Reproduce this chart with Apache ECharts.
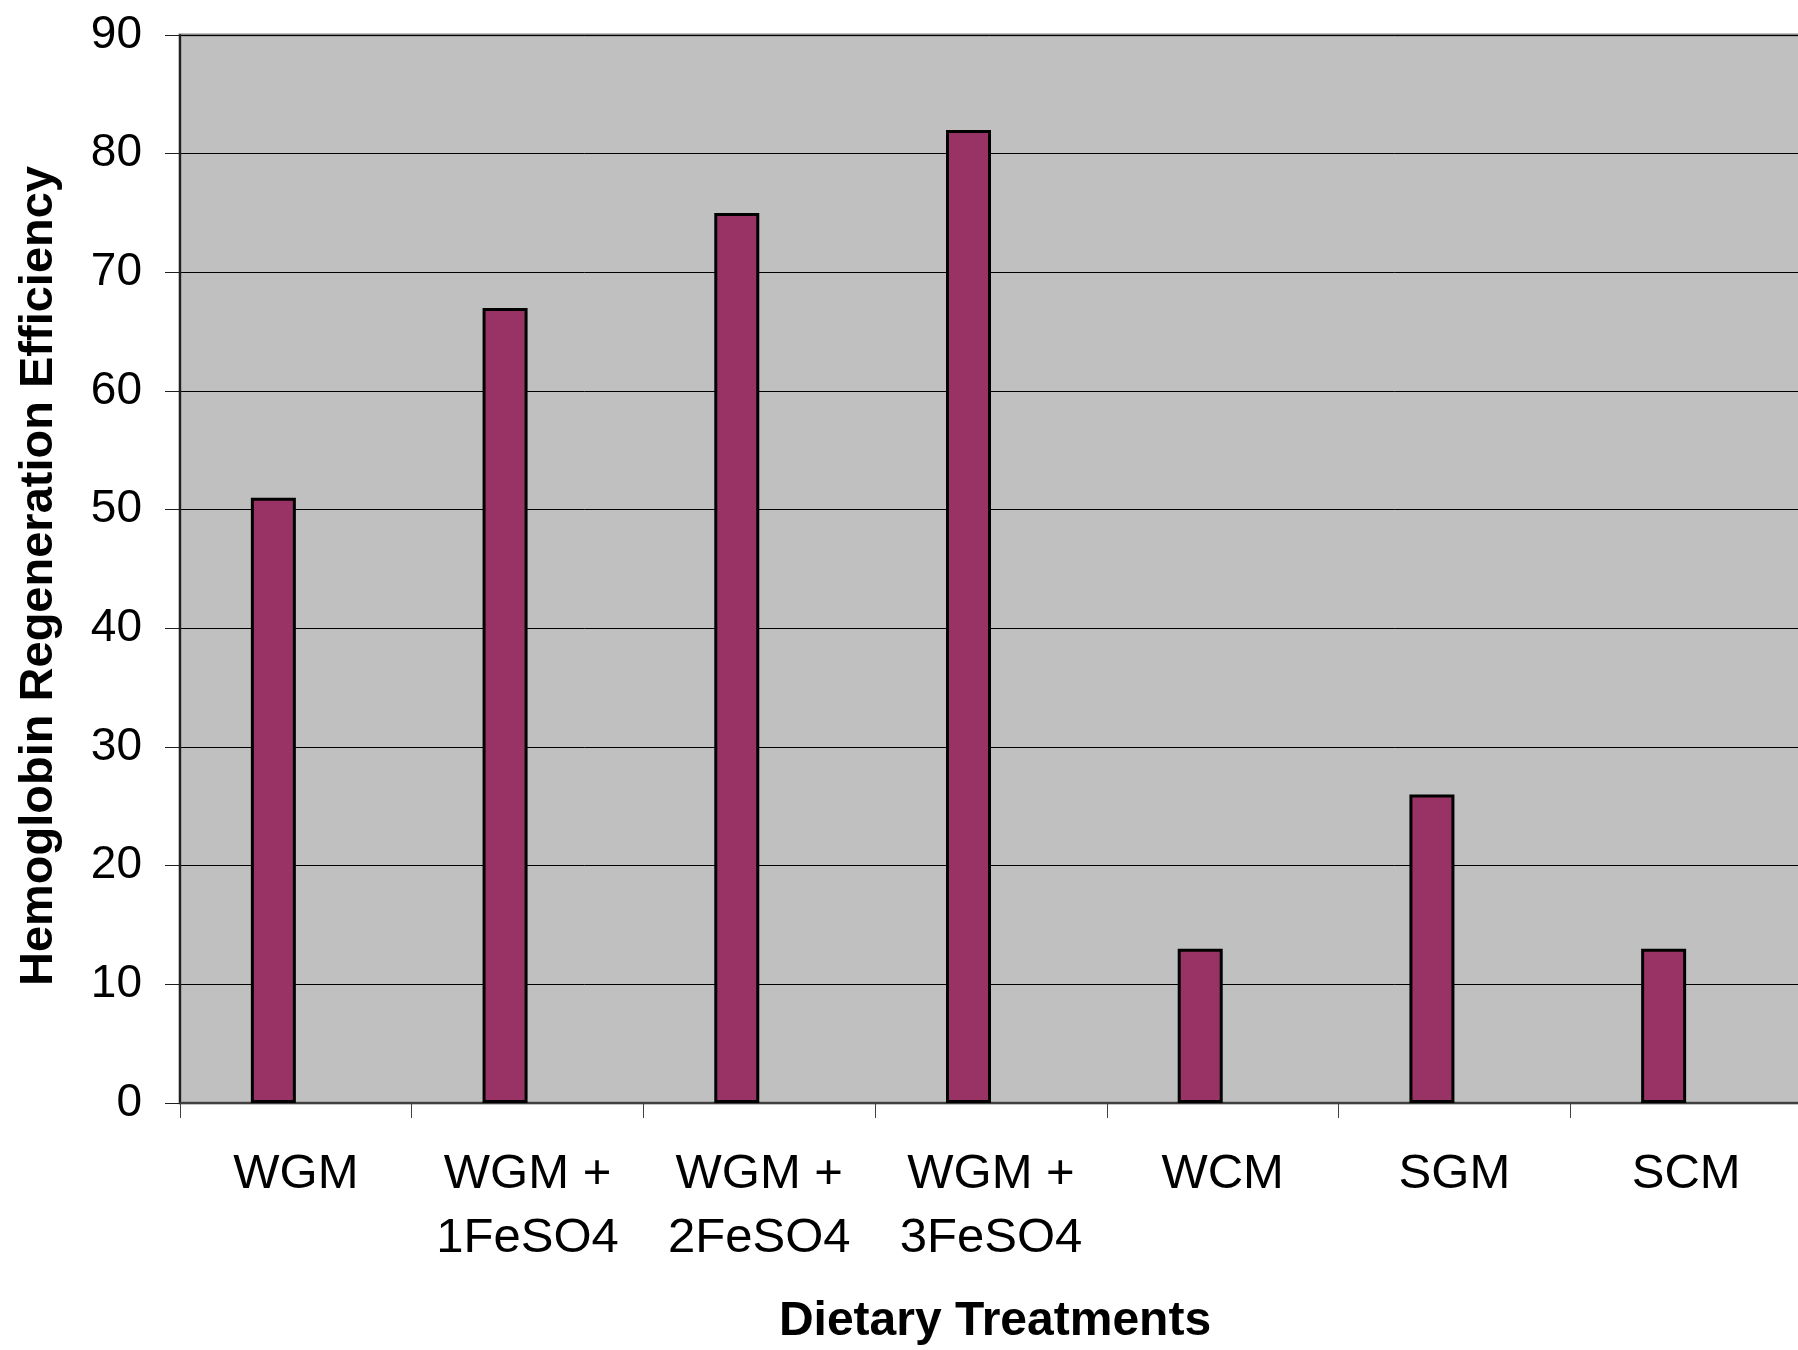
<!DOCTYPE html>
<html>
<head>
<meta charset="utf-8">
<script src="https://cdn.jsdelivr.net/npm/echarts@6/dist/echarts.min.js"></script>
<style>
html,body{margin:0;padding:0;background:#fff;}
#chart{width:1798px;height:1350px;}
</style>
</head>
<body>
<div id="chart"></div>
<script>
const categories = ["WGM", "WGM +\n1FeSO4", "WGM +\n2FeSO4", "WGM +\n3FeSO4", "WCM", "SGM", "SCM"];
const hreValues = [51, 67, 75, 82, 13, 26, 13];
const emptySeries = [null, null, null, null, null, null, null];
const yTicks = { min: 0, max: 90, interval: 10 };

const FONT = "'Liberation Sans', Arial, sans-serif";
const chart = echarts.init(document.getElementById('chart'), null, { renderer: 'canvas' });
chart.setOption({
  animation: false,
  backgroundColor: '#ffffff',
  grid: {
    left: 180, top: 35, right: -4, bottom: 247,
    containLabel: false, outerBoundsMode: 'none',
    show: true, backgroundColor: '#c0c0c0', borderColor: '#858585', borderWidth: 3
  },
  xAxis: {
    type: 'category',
    data: categories,
    name: 'Dietary Treatments',
    nameLocation: 'middle',
    nameGap: 195,
    nameTextStyle: { fontFamily: FONT, fontSize: 48, fontWeight: 'bold', color: '#000', padding: [0, 0, 0, 8] },
    axisLine: { show: true, lineStyle: { color: '#404040', width: 2 } },
    axisTick: { show: true, length: 15, lineStyle: { color: '#404040', width: 1 } },
    axisLabel: { interval: 0, fontFamily: FONT, fontSize: 49, lineHeight: 64, margin: 39, color: '#000' },
    splitLine: { show: false }
  },
  yAxis: {
    type: 'value',
    min: yTicks.min, max: yTicks.max, interval: yTicks.interval,
    name: 'Hemoglobin Regeneration Efficiency',
    nameLocation: 'middle',
    nameRotate: 90,
    nameGap: 117,
    nameTextStyle: { fontFamily: FONT, fontSize: 47, fontWeight: 'bold', color: '#000', padding: [0, 14, 0, 0] },
    axisLine: { show: true, lineStyle: { color: '#202020', width: 2 } },
    axisTick: { show: true, length: 15, lineStyle: { color: '#202020', width: 1 } },
    axisLabel: { fontFamily: FONT, fontSize: 46, margin: 38, color: '#000' },
    splitLine: { show: true, lineStyle: { color: '#000', width: 1 } }
  },
  series: [
    {
      type: 'bar',
      data: hreValues,
      barWidth: 45,
      barGap: '0%',
      itemStyle: { color: '#993366', borderColor: '#000', borderWidth: 3 }
    },
    {
      type: 'bar',
      data: emptySeries,
      barWidth: 45,
      barGap: '0%',
      itemStyle: { color: '#993366', borderColor: '#000', borderWidth: 3 }
    }
  ]
});
</script>
</body>
</html>
